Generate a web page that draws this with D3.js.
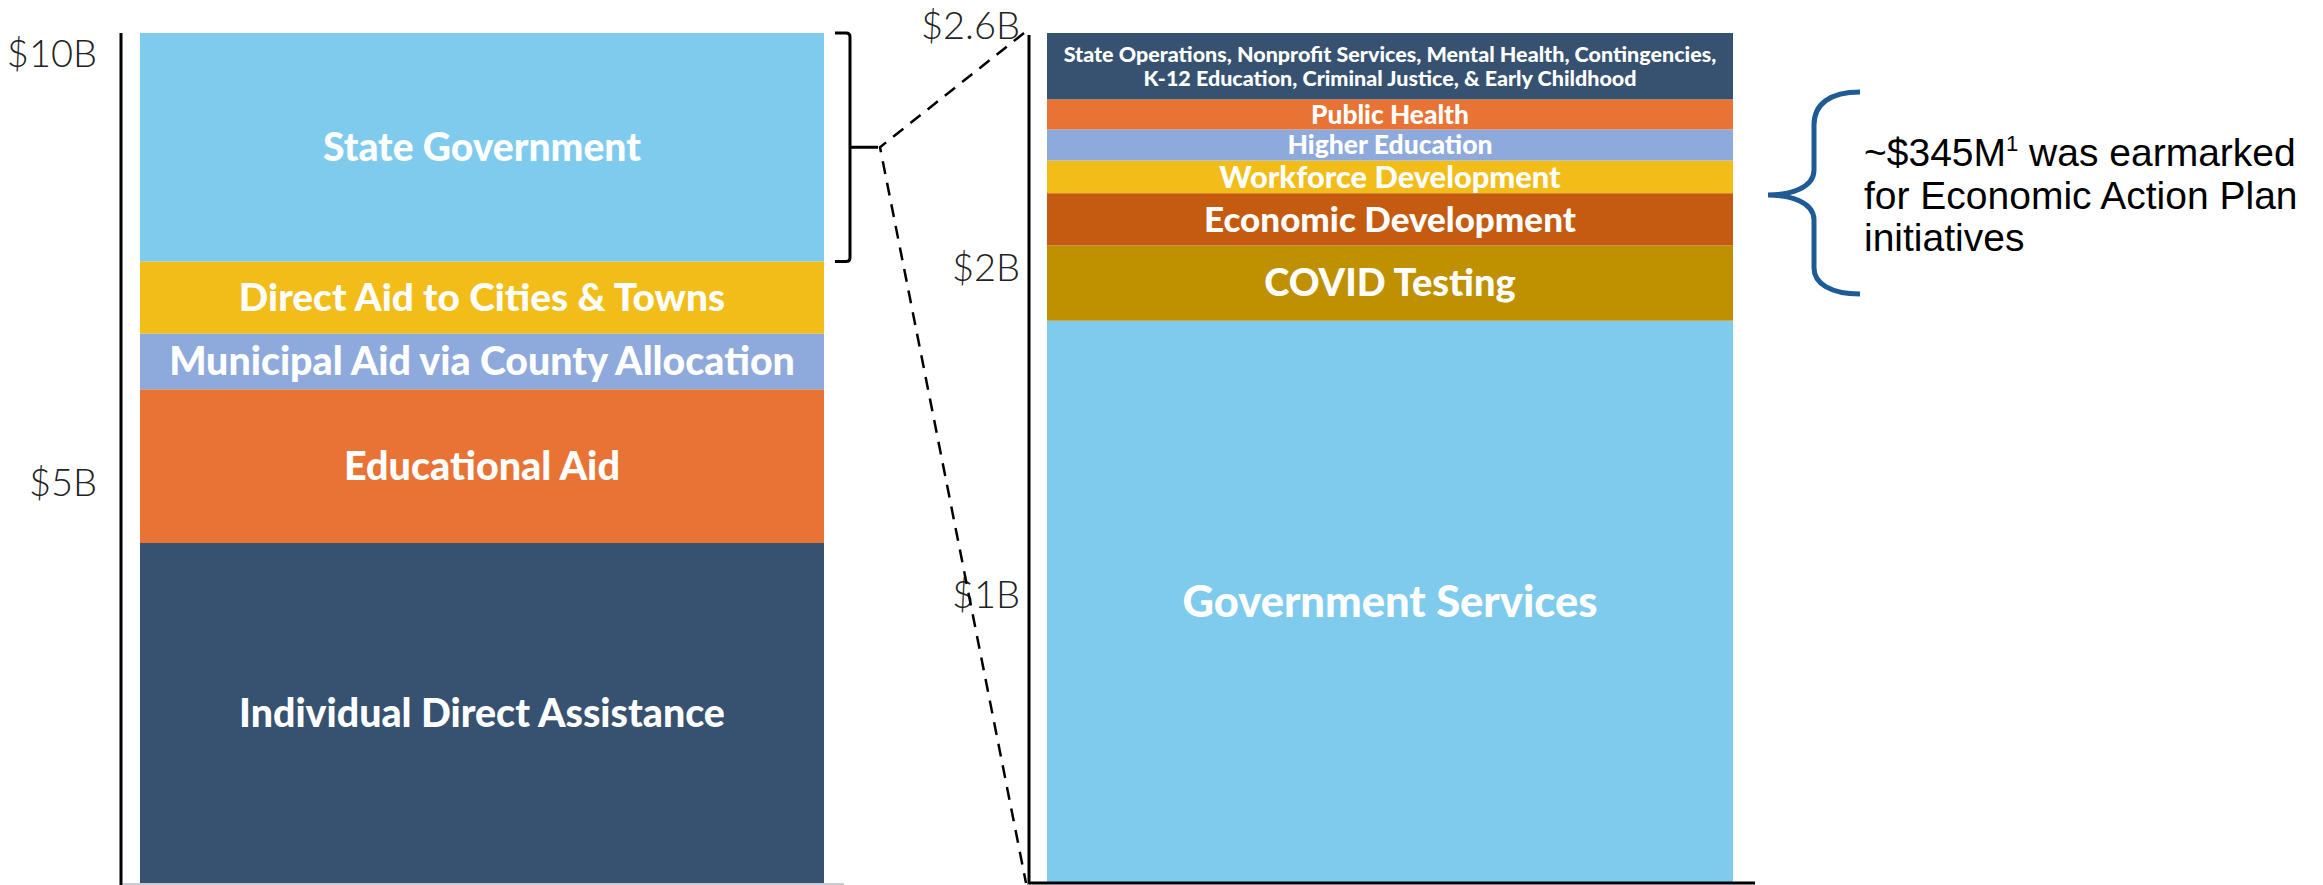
<!DOCTYPE html>
<html lang="en">
<head>
<meta charset="UTF-8">
<script src="https://d3js.org/d3.v7.min.js"></script>
<title>ARPA allocation</title>
<style>
  body { margin: 0; background: #fff; }
  .seg-label { font-family: Lato, "Open Sans", sans-serif; font-weight: 900; fill: #fff; }
  .tick text { font-family: Lato, "Liberation Sans", sans-serif; font-weight: 300; fill: #222; }
</style>
</head>
<body>
<svg id="mainsvg" width="2323" height="885"></svg>
<script>
// left bar: total allocation (bottom -> top), $B
const leftCategories = ['Individual Direct Assistance', 'Educational Aid', 'Municipal Aid via County Allocation', 'Direct Aid to Cities & Towns', 'State Government']
const leftValues = [3.96, 1.79, 0.65, 0.84, 2.66]
const leftColors = ['#375271', '#E97334', '#8EAADC', '#F2BD18', '#7ECBED']
const leftTicks = [5, 10]

// right bar: state government breakdown (bottom -> top), $B
const rightCategories = ['Government Services', 'COVID Testing', 'Economic Development', 'Workforce Development', 'Higher Education', 'Public Health',
  'State Operations, Nonprofit Services, Mental Health, Contingencies,|K-12 Education, Criminal Justice, & Early Childhood']
const rightValues = [1.72, 0.23, 0.16, 0.10, 0.095, 0.092, 0.203]
const rightColors = ['#7ECBED', '#BF9000', '#C55A11', '#F2BD18', '#8EAADC', '#E97334', '#375271']
const rightTicks = [1, 2, 2.6]

const noteLines = ['~$345M|1| was earmarked', 'for Economic Action Plan', 'initiatives']

const leftFont = [39.3, 39.5, 39.3, 38.8, 39]
const rightFont = [43.5, 38, 35, 30.8, 26.5, 26.3, 21.5]

const svg = d3.select('#mainsvg')
const plotTop = 33, plotBottom = 883

const yL = d3.scaleLinear().domain([0, d3.sum(leftValues)]).range([plotBottom, plotTop])
const yR = d3.scaleLinear().domain([0, 2.6]).range([plotBottom, plotTop])

function stackRows(cats, vals, cols, fonts) {
  const ends = d3.cumsum(vals)
  return cats.map((c, i) => ({ name: c, y0: ends[i] - vals[i], y1: ends[i], color: cols[i], font: fonts[i] }))
}

function drawBar(rows, y, x0, x1) {
  const g = svg.append('g')
  g.selectAll('rect').data(rows).join('rect')
    .attr('x', x0).attr('width', x1 - x0)
    .attr('y', d => y(d.y1)).attr('height', d => y(d.y0) - y(d.y1))
    .attr('fill', d => d.color)
  const t = g.selectAll('text').data(rows).join('text')
    .attr('class', 'seg-label')
    .attr('text-anchor', 'middle')
    .attr('x', (x0 + x1) / 2)
    .attr('y', d => (y(d.y0) + y(d.y1)) / 2)
    .style('font-size', d => d.font + 'px')
  t.each(function (d) {
    const lines = d.name.split('|')
    const sel = d3.select(this)
    const lh = 1.1
    lines.forEach((ln, k) => {
      sel.append('tspan').attr('x', (x0 + x1) / 2)
        .attr('dy', k === 0 ? (0.35 - (lines.length - 1) * lh / 2) + 'em' : lh + 'em')
        .text(ln)
    })
  })
}

const leftRows = stackRows(leftCategories, leftValues, leftColors, leftFont)
const rightRows = stackRows(rightCategories, rightValues, rightColors, rightFont)

drawBar(leftRows, yL, 140, 824)
drawBar(rightRows, yR, 1047, 1733)

// left axis
const axL = svg.append('g').attr('transform', 'translate(121,0)')
  .call(d3.axisLeft(yL).tickValues(leftTicks).tickSize(0).tickPadding(24).tickFormat(d => '$' + d + 'B'))
axL.select('.domain').remove()
axL.selectAll('.tick text').style('font-size', '38px').attr('dy', '1.1em')
svg.append('line').attr('x1', 121).attr('x2', 121).attr('y1', plotTop).attr('y2', 885)
  .attr('stroke', '#000').attr('stroke-width', 3)
svg.append('line').attr('x1', 123).attr('x2', 844).attr('y1', 884).attr('y2', 884)
  .attr('stroke', '#c8ccd2').attr('stroke-width', 2)

// right axis
const axR = svg.append('g').attr('transform', 'translate(1029,0)')
  .call(d3.axisLeft(yR).tickValues(rightTicks).tickSize(0).tickPadding(9).tickFormat(d => '$' + d + 'B'))
axR.select('.domain').remove()
axR.selectAll('.tick text').style('font-size', '38px')
  .attr('dy', d => d === 2.6 ? '0.14em' : '1.35em')
svg.append('path')
  .attr('d', `M1029,${plotTop + 2}V${plotBottom}H1755`)
  .attr('fill', 'none').attr('stroke', '#000').attr('stroke-width', 3)

// bracket around State Government
const sg = leftRows[leftRows.length - 1]
const bTop = yL(sg.y1), bBot = yL(sg.y0), bMid = (bTop + bBot) / 2
svg.append('path')
  .attr('d', `M835,${bTop}H846Q850,${bTop} 850,${bTop + 4}V${bBot - 4}Q850,${bBot} 846,${bBot}H835M850,${bMid}H878`)
  .attr('fill', 'none').attr('stroke', '#000').attr('stroke-width', 3)

// dashed connectors
svg.append('path')
  .attr('d', `M1024,${yR(2.6)}L880,${bMid}L1026,${yR(0)}`)
  .attr('fill', 'none').attr('stroke', '#000').attr('stroke-width', 2.5)
  .attr('stroke-dasharray', '13,9')

// blue brace + note
svg.append('path')
  .attr('d', 'M1860,92C1830,92 1814,104 1814,125V170C1814,188 1790,195 1768,195C1790,195 1814,202 1814,220V268C1814,283 1830,294 1860,294')
  .attr('fill', 'none').attr('stroke', '#1E5A94').attr('stroke-width', 5)

const note = svg.append('text')
  .style('font-family', '"Liberation Sans", Arial, sans-serif').style('font-size', '39px').attr('fill', '#000')
noteLines.forEach((ln, i) => {
  const parts = ln.split('|')
  note.append('tspan').attr('x', 1864).attr('y', 166 + i * 42.5).text(parts[0])
  if (parts.length > 1) {
    note.append('tspan').attr('dy', -15).style('font-size', '22px').text(parts[1])
    note.append('tspan').attr('dy', 15).text(parts[2])
  }
})
</script>
</body>
</html>
